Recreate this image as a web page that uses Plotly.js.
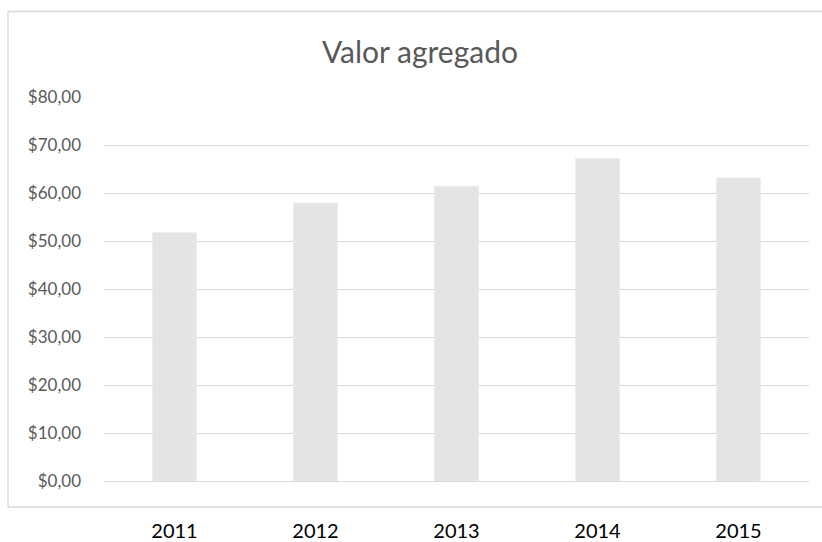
<!DOCTYPE html>
<html>
<head>
<meta charset="utf-8">
<script src="https://cdn.plot.ly/plotly-3.0.1.min.js"></script>
<style>html,body{margin:0;padding:0;background:#fff;}#chart{width:822px;height:542px;}</style>
</head>
<body>
<div id="chart"></div>
<script>
const years = ['2011', '2012', '2013', '2014', '2015'];
const valorAgregado = [51.7, 57.9, 61.4, 67.2, 63.1];
const yTicks = [0, 10, 20, 30, 40, 50, 60, 70, 80];
const yTickLabels = yTicks.map(v => '$' + v.toFixed(2).replace('.', ','));

const W = 822, H = 542;
const L = 104, R = 13, T = 97, B = 61;
const pw = W - L - R, ph = H - T - B;
const px = v => (v - L) / pw;
const py = v => (H - B - v) / ph;

const font = 'Lato, "Open Sans", "Liberation Sans", sans-serif';

Plotly.newPlot('chart', [{
  type: 'bar',
  x: years,
  y: valorAgregado,
  marker: {color: '#e4e4e4', line: {color: '#eaeaea', width: 1}},
  hoverinfo: 'none'
}], {
  width: W, height: H,
  margin: {l: L, r: R, t: T, b: B, pad: 0},
  paper_bgcolor: '#ffffff', plot_bgcolor: '#ffffff',
  bargap: 0.69,
  showlegend: false,
  title: {text: 'Valor agregado', x: px(420), xref: 'paper', xanchor: 'center',
          y: 1 - 52 / H, yanchor: 'middle',
          font: {family: font, size: 30, color: '#595959'}},
  xaxis: {type: 'category', showgrid: false, zeroline: false, showline: false,
          ticks: '', ticklabelstandoff: 36,
          tickfont: {family: font, size: 20, color: '#000000'}},
  yaxis: {range: [0, 80], tickmode: 'array', tickvals: yTicks, ticktext: yTickLabels,
          showgrid: true, gridcolor: '#d9d9d9', gridwidth: 1,
          zeroline: true, zerolinecolor: '#d9d9d9', zerolinewidth: 1,
          showline: false, ticks: '', ticklabelstandoff: 22,
          tickfont: {family: font, size: 17, color: '#595959'}},
  shapes: [{type: 'rect', xref: 'paper', yref: 'paper',
            x0: px(8), x1: px(832), y0: py(507), y1: py(11.5),
            line: {color: '#d9d9d9', width: 1.3}, fillcolor: 'rgba(0,0,0,0)', layer: 'below'}]
}, {staticPlot: true});
</script>
</body>
</html>
